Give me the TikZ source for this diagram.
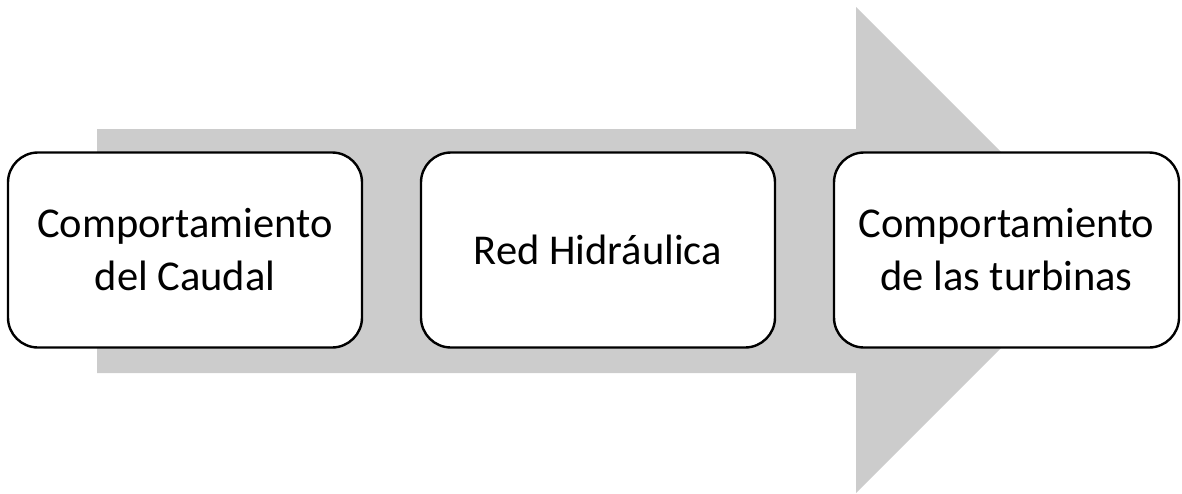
\documentclass[tikz,border=0pt]{standalone}
\usepackage{fontspec}
\setmainfont{Carlito}
\begin{document}
\begin{tikzpicture}[x=1pt,y=-1pt,
  stage/.style={draw=black, line width=2.4pt, fill=white, rounded corners=30pt,
    minimum width=354pt, minimum height=195pt, align=center, inner sep=0pt,
    font=\fontsize{42.5}{53}\selectfont},
]
\useasboundingbox (0,0) rectangle (1182,493);
% big grey process arrow in the background
\fill[fill={rgb,255:red,204;green,204;blue,204}]
  (97,129) -- (856,129) -- (856,7) -- (1099,250) -- (856,493) -- (856,373) -- (97,373) -- cycle;
% the three stages
\node[stage] (caudal) at (185,250) {Comportamiento\\del Caudal};
\node[stage] (red) at (598,250) {Red Hidráulica};
\node[stage, minimum width=345pt] (turb) at (1006.5,250) {Comportamiento\\de las turbinas};
\end{tikzpicture}
\end{document}
